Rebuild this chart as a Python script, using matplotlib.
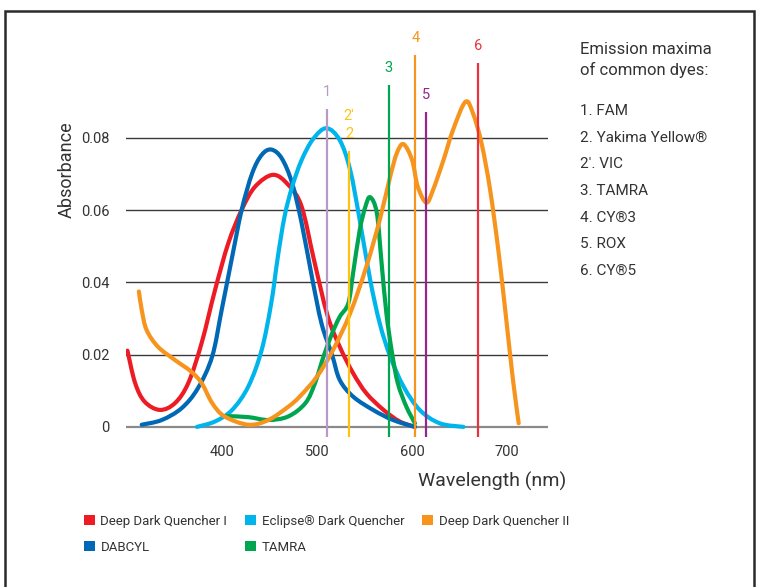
import numpy as np
import matplotlib.pyplot as plt
from matplotlib.patches import Patch, Rectangle, PathPatch
from matplotlib.path import Path

plt.rcParams['font.family'] = ['Roboto', 'DejaVu Sans']

# absorbance spectra of the quenchers (wavelength in nm, absorbance)
ddq1_wl = [301, 309, 319, 335, 351, 365, 379, 393, 407, 421, 435, 454, 470, 484, 497, 511, 524, 538, 552, 570, 587, 603]
ddq1_abs = [0.0211, 0.0122, 0.0070, 0.0047, 0.0066, 0.0122, 0.0233, 0.0379, 0.0509, 0.0601, 0.0665, 0.0698, 0.0670,
            0.0610, 0.0462, 0.0310, 0.0222, 0.0149, 0.0093, 0.0047, 0.0015, 0.0]

dabcyl_wl = [316, 337, 358, 375, 390, 400, 411, 421, 432, 442, 452, 463, 474, 484, 495, 505, 516, 524, 538, 559, 580, 603]
dabcyl_abs = [0.0006, 0.0019, 0.0052, 0.0107, 0.0195, 0.0324, 0.0471, 0.0601, 0.0702, 0.0753, 0.0768, 0.0744, 0.0675,
              0.0564, 0.0412, 0.0285, 0.0199, 0.0130, 0.0084, 0.0047, 0.0019, 0.0]

eclipse_wl = [374, 393, 411, 428, 442, 452, 459, 466, 474, 484, 496, 510, 524, 535, 545, 556, 566, 577, 591, 608, 629, 654]
eclipse_abs = [0.0, 0.0015, 0.0047, 0.0112, 0.0213, 0.0342, 0.0471, 0.0582, 0.0665, 0.0739, 0.0797, 0.0827, 0.0794,
               0.0711, 0.0573, 0.0407, 0.0287, 0.0195, 0.0112, 0.0047, 0.0010, 0.0]

tamra_wl = [405, 428, 449, 470, 488, 498, 507, 516, 524, 533, 538, 545, 551, 556, 563, 568, 573, 579, 585, 594, 603]
tamra_abs = [0.0030, 0.0027, 0.0019, 0.0029, 0.0066, 0.0121, 0.0195, 0.0259, 0.0305, 0.0342, 0.0425, 0.0545, 0.0610,
             0.0636, 0.0592, 0.0453, 0.0315, 0.0204, 0.0121, 0.0056, 0.0010]

ddq2_wl = [313, 316, 321, 333, 351, 368, 379, 390, 403, 428, 449, 470, 482, 500, 517, 535, 552, 566, 577, 584, 591,
           600, 606, 615, 622, 633, 643, 656, 664, 673, 682, 691, 699, 706, 712]
ddq2_abs = [0.0375, 0.0324, 0.0269, 0.0222, 0.0185, 0.0153, 0.0121, 0.0066, 0.0029, 0.0006, 0.0019, 0.0056, 0.0084,
            0.0139, 0.0213, 0.0315, 0.0444, 0.0573, 0.0693, 0.0758, 0.0783, 0.0739, 0.0665, 0.0621, 0.0656, 0.0739,
            0.0822, 0.0900, 0.0868, 0.0785, 0.0656, 0.0481, 0.0296, 0.0130, 0.0010]

quencher_names = ['Deep Dark Quencher I', 'DABCYL', 'Eclipse® Dark Quencher', 'TAMRA', 'Deep Dark Quencher II']
quencher_colors = ['#ed1c24', '#0068b4', '#00b4ec', '#00a64f', '#f7941d']

# emission maxima markers
dye_labels = ['1', '2', '3', '4', '5', '6']
dye_wl = [510.6, 533.7, 575.7, 603.4, 614.6, 668.9]
dye_top = [0.0880, 0.0764, 0.0947, 0.1031, 0.0872, 0.1008]
dye_colors = ['#b79ac8', '#ffc20e', '#00a651', '#f7941d', '#92278f', '#e8333f']

dye_list = ['1. FAM', '2. Yakima Yellow®', "2'. VIC", '3. TAMRA', '4. CY®3', '5. ROX', '6. CY®5']

x_ticks = [400, 500, 600, 700]
y_ticks = [0, 0.02, 0.04, 0.06, 0.08]
y_ticklabels = ['0', '0.02', '0.04', '0.06', '0.08']

txt = '#333333'


def smooth_path(x, y):
    # bezier curve through the read points (catmull-rom style handles)
    pts = np.column_stack([x, y]).astype(float)
    verts = [pts[0]]
    codes = [Path.MOVETO]
    n = len(pts)
    for i in range(n - 1):
        p0 = pts[i - 1] if i > 0 else pts[i]
        p1 = pts[i]
        p2 = pts[i + 1]
        p3 = pts[i + 2] if i + 2 < n else pts[i + 1]
        verts += [p1 + (p2 - p0) / 6, p2 - (p3 - p1) / 6, p2]
        codes += [Path.CURVE4] * 3
    return Path(verts, codes)


fig = plt.figure(figsize=(7.6, 5.87), dpi=100)
ax = fig.add_axes([126.5 / 760, 1 - 437 / 587, 421.7 / 760, 407 / 587])
ax.set_xlim(300, 743)
ymin, ymax = -0.0028, 0.1099
ax.set_ylim(ymin, ymax)

for yv in y_ticks:
    if yv == 0:
        ax.axhline(yv, color='#8a8a8a', lw=1.6, zorder=1)
    else:
        ax.axhline(yv, color='#3a3a3a', lw=1.0, zorder=1)

series = [(ddq1_wl, ddq1_abs), (dabcyl_wl, dabcyl_abs), (eclipse_wl, eclipse_abs),
          (tamra_wl, tamra_abs), (ddq2_wl, ddq2_abs)]
for (wl, ab), c in zip(series, quencher_colors):
    ax.add_patch(PathPatch(smooth_path(wl, ab), fill=False, edgecolor=c, lw=3.0,
                           capstyle='round', joinstyle='round', zorder=3))

for lab, w, top, c in zip(dye_labels, dye_wl, dye_top, dye_colors):
    ax.vlines(w, ymin, top, color=c, lw=1.6, zorder=4)
    ax.text(w, top + 0.0047, lab, color=c, fontsize=10.5, ha='center', va='center')
ax.text(dye_wl[1], dye_top[1] + 0.0097, "2'", color=dye_colors[1], fontsize=10.5, ha='center', va='center')

for s in ax.spines.values():
    s.set_visible(False)
ax.set_xticks(x_ticks)
ax.set_yticks(y_ticks)
ax.set_yticklabels(y_ticklabels)
ax.tick_params(length=0, labelsize=10.5, labelcolor=txt)
ax.tick_params(axis='y', pad=12)
ax.tick_params(axis='x', pad=6)

fig.text(67 / 760, 1 - 170 / 587, 'Absorbance', rotation=90, ha='center', va='center', fontsize=13, color=txt)
fig.text(418 / 760, 1 - 481 / 587, 'Wavelength (nm)', ha='left', va='center', fontsize=14, color=txt)

fig.text(580 / 760, 1 - 60 / 587, 'Emission maxima\nof common dyes:', ha='left', va='center',
         fontsize=12, color=txt, linespacing=1.4)
for i, item in enumerate(dye_list):
    fig.text(580 / 760, 1 - (111 + i * 26.7) / 587, item, ha='left', va='center', fontsize=11, color=txt)

handles = [Patch(facecolor=c, edgecolor='none') for c in quencher_colors]
fig.legend(handles, quencher_names, ncol=3, loc='upper left', bbox_to_anchor=(84 / 760, 1 - 515 / 587),
           frameon=False, fontsize=9.5, borderpad=0, borderaxespad=0, handlelength=0.8, handleheight=0.8,
           handletextpad=0.45, columnspacing=1.35, labelspacing=0.95, labelcolor=txt)

# dark frame round the picture
fig.patches.append(Rectangle((5 / 760, -0.02), 749 / 760, 1.02 - 11 / 587, transform=fig.transFigure,
                             fill=False, edgecolor='#2b2b2b', lw=1.8))

fig.savefig('out.png', dpi=100)
